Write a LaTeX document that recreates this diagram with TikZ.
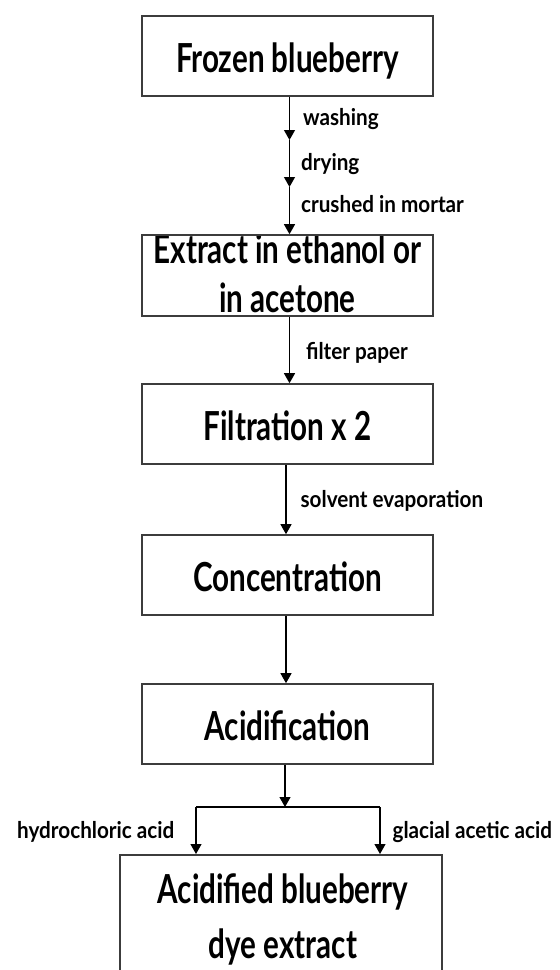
\documentclass[tikz,border=0pt]{standalone}
\usepackage{fontspec}
\setmainfont{Lato}
\newfontfamily\boxfont{Lato}[FakeStretch=0.74]
\newfontfamily\notefont{Lato}[FakeStretch=0.9]
\usetikzlibrary{arrows.meta}
\tikzset{>={Triangle[width=11pt,length=10pt]}}
\definecolor{boxgrey}{HTML}{3C3C3C}

\begin{document}
\begin{tikzpicture}[x=1pt, y=-1pt]
    \tikzset{%
      stage/.style={draw=boxgrey, line width=1.6pt, minimum width=291pt, minimum height=80pt,
        inner sep=0pt, font=\boxfont\bfseries\fontsize{40}{48}\selectfont, text height=32pt, text depth=0pt},
      boxtext/.style={font=\boxfont\bfseries\fontsize{40}{48}\selectfont, inner sep=0pt},
      flow/.style={->, line width=1.2pt},
      note/.style={font=\notefont\bfseries\fontsize{23}{28}\selectfont, inner sep=0pt}
      }
    \clip (0,0) rectangle (560,970);

    \node [stage] (frozen) at (287.5,56) {Frozen blueberry};
    \node [stage, minimum height=81pt, path picture={
        \node [boxtext, anchor=base] (extractA) at ([yshift=-28pt]path picture bounding box.north) {Extract in ethanol or};
        \node [boxtext, anchor=base] (extractB) at ([yshift=-77pt]path picture bounding box.north) {in acetone};
      }] (extract) at (287.5,275.5) {};
    \node [stage] (filtr) at (287.5,424) {Filtration x 2};
    \node [stage] (conc) at (287.5,575) {Concentration};
    \node [stage] (acidif) at (287.5,724) {Acidification};
    \node [stage, anchor=north, minimum width=322pt, minimum height=160pt, path picture={
        \node [boxtext, anchor=base] (dyedA) at ([xshift=2pt, yshift=-49pt]path picture bounding box.north) {Acidified blueberry};
        \node [boxtext, anchor=base] (dyedB) at ([xshift=2pt, yshift=-104pt]path picture bounding box.north) {dye extract};
      }] (dyed) at (281,854) {};

    % pre-treatment
    \coordinate (wash) at (289.5,140);
    \coordinate (dry) at (289.5,187);
    \draw [flow] (frozen.south -| wash) -- node [note, pos=.66, anchor=base west, xshift=13pt] (lwash) {washing} (wash);
    \draw [flow] (wash) -- node [note, pos=.64, anchor=base west, xshift=11pt] (ldry) {drying} (dry);
    \draw [flow] (dry) -- node [note, pos=.54, anchor=base west, xshift=11pt] (lcrush) {crushed in mortar} (extract.north -| dry);

    \draw [flow] (extract.south -| dry) -- node [note, pos=.65, anchor=base west, xshift=16pt] (lfilter) {filter paper} (filtr.north -| dry);
    \draw [flow] ([xshift=-1.5pt]filtr.south) -- node [note, pos=.61, anchor=base west, xshift=14pt] (lsolv) {solvent evaporation} ([xshift=-1.5pt]conc.north);
    \draw [flow] ([xshift=-1.5pt]conc.south) -- ([xshift=-1.5pt]acidif.north);

    % acids
    \coordinate (split) at (285,807);
    \coordinate (hcl) at (196,807);
    \coordinate (gaa) at (380,807);
    \draw [flow] (acidif.south -| split) -- (split);
    \draw [line width=1.2pt] (hcl) -- (gaa);
    \draw [flow] (hcl) -- node [note, pos=.68, anchor=base east, xshift=-21pt] (lhcl) {hydrochloric acid} (hcl |- dyed.north);
    \draw [flow] (gaa) -- node [note, pos=.68, anchor=base west, xshift=12pt] (lgaa) {glacial acetic acid} (gaa |- dyed.north);

  \end{tikzpicture}
\end{document}
